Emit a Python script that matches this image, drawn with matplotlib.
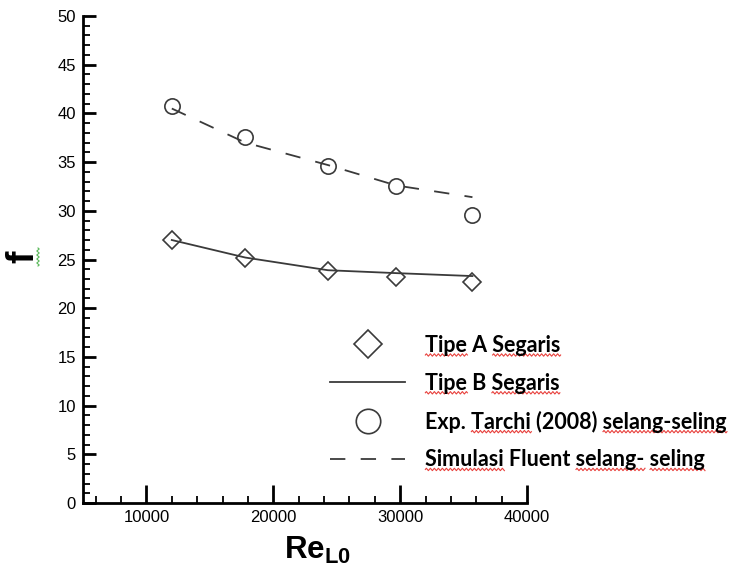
import matplotlib
matplotlib.use('Agg')
import matplotlib.pyplot as plt
import numpy as np
from matplotlib.lines import Line2D
from matplotlib.ticker import MultipleLocator

# data
re_vals = [12000, 17800, 24300, 29700, 35700]
tipe_a = [27.0, 25.2, 23.8, 23.2, 22.7]
tipe_b = [27.0, 25.2, 23.9, 23.6, 23.3]
exp_tarchi = [40.8, 37.6, 34.6, 32.5, 29.6]
sim_fluent = [40.5, 37.0, 34.7, 32.6, 31.4]

labels = ['Tipe A Segaris', 'Tipe B Segaris',
          'Exp. Tarchi (2008) selang-seling', 'Simulasi Fluent selang- seling']
# words that carry the spell-check underline in the picture
flagged = [['Tipe', 'Segaris'], ['Tipe', 'Segaris'],
           ['Tarchi', 'selang-seling'], ['Simulasi', 'selang-', 'seling']]

plt.rcParams['font.family'] = ['Liberation Sans', 'DejaVu Sans']
plt.rcParams['mathtext.fontset'] = 'custom'
plt.rcParams['mathtext.bf'] = 'Liberation Sans:bold'
plt.rcParams['mathtext.rm'] = 'Liberation Sans'

fig = plt.figure(figsize=(7.35, 5.69), dpi=100)
ax = fig.add_axes([83 / 735, 1 - 503 / 569, (527 - 83) / 735, (503 - 16) / 569])

col = '#3a3a3a'
h1, = ax.plot(re_vals, tipe_a, linestyle='none', marker='D', ms=9,
              mfc='none', mec=col, mew=1.2)
h2, = ax.plot(re_vals, tipe_b, color=col, lw=1.3)
h3, = ax.plot(re_vals, exp_tarchi, linestyle='none', marker='o', ms=11,
              mfc='none', mec=col, mew=1.2)
h4, = ax.plot(re_vals, sim_fluent, color=col, lw=1.3, linestyle=(0, (8.5, 8.5)))

ax.set_xlim(5000, 40000)
ax.set_ylim(0, 50)
ax.xaxis.set_major_locator(MultipleLocator(10000))
ax.xaxis.set_minor_locator(MultipleLocator(2000))
ax.yaxis.set_major_locator(MultipleLocator(5))
ax.yaxis.set_minor_locator(MultipleLocator(1))

for s in ['top', 'right']:
    ax.spines[s].set_visible(False)
for s in ['left', 'bottom']:
    ax.spines[s].set_linewidth(2)

ax.tick_params(which='major', direction='in', width=2, labelsize=12, pad=5)
ax.tick_params(axis='y', which='major', length=9)
ax.tick_params(axis='x', which='major', length=13)
ax.tick_params(which='minor', direction='in', width=1.3, length=5)
ax.set_xticks([10000, 20000, 30000, 40000])

fig.text(23 / 735, 1 - 257 / 569, 'f', fontsize=27, fontweight='bold',
         rotation=90, ha='center', va='center')
fig.text(317 / 735, 1 - 550 / 569, r'$\mathbf{Re_{L0}}$', fontsize=22.5,
         ha='center', va='center')

leg = fig.legend([h1, h2, h3, h4], labels, loc='upper left',
                 bbox_to_anchor=(330 / 735, 1 - 335 / 569),
                 frameon=False, borderpad=0, borderaxespad=0, markerscale=1.6,
                 handlelength=3.5, handletextpad=0.93, labelspacing=0.78,
                 prop={'family': 'Lato', 'weight': 'bold', 'size': 15.5})


def squiggle(a0, a1, pos, color, vertical=False):
    # small wavy line in pixel coords, like the word processor's marks
    t = np.arange(0, a1 - a0 + 0.5, 1.0)
    w = 1.2 * np.sin(t * np.pi / 2)
    if vertical:
        xs, ys = pos + w, a0 + t
    else:
        xs, ys = a0 + t, pos + w
    fig.add_artist(Line2D(xs, ys, transform=None, color=color, lw=0.8))


fig.canvas.draw()
rend = fig.canvas.get_renderer()
for txt, words in zip(leg.get_texts(), flagged):
    s = txt.get_text()
    bb = txt.get_window_extent(rend)
    prop = txt.get_fontproperties()
    _, _, desc = rend.get_text_width_height_descent(s, prop, ismath=False)
    base = bb.y0 + desc
    start = 0
    for wd in words:
        i = s.index(wd, start)
        start = i + len(wd)
        pre = rend.get_text_width_height_descent(s[:i], prop, ismath=False)[0] if i else 0
        full = rend.get_text_width_height_descent(s[:start], prop, ismath=False)[0]
        squiggle(bb.x0 + pre, bb.x0 + full, base - 3, '#e8403c')

squiggle(569 - 266, 569 - 248, 38, '#58b858', vertical=True)

fig.savefig('out.png', dpi=100)
